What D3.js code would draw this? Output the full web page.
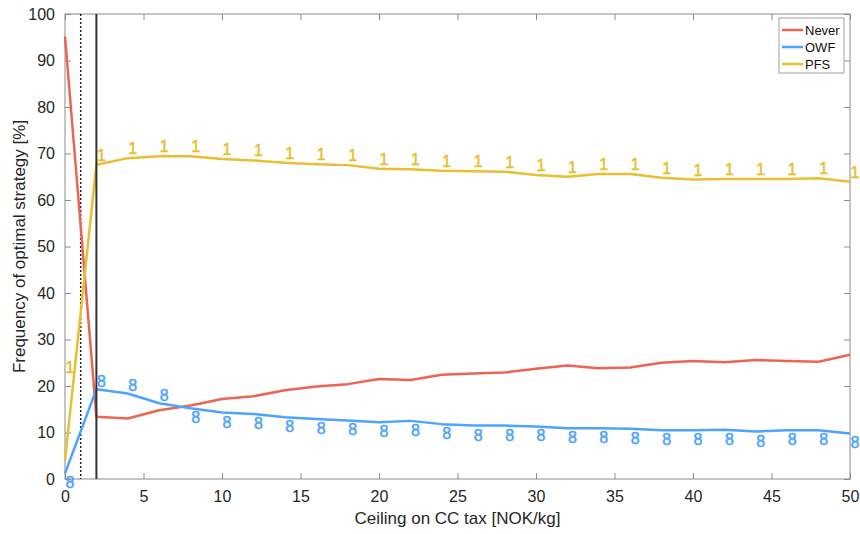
<!DOCTYPE html>
<html>
<head>
<meta charset="utf-8">
<script src="https://cdn.jsdelivr.net/npm/d3@7"></script>
<style>
  body { margin: 0; background: #fff; }
  svg text { font-family: Arial, "Liberation Sans", sans-serif; }
</style>
</head>
<body>
<div id="chart"></div>
<script>
// ceiling on CC tax [NOK/kg]
const ceilings = [0, 2, 4, 6, 8, 10, 12, 14, 16, 18, 20, 22, 24, 26, 28, 30, 32, 34, 36, 38, 40, 42, 44, 46, 48, 50];

// frequency of optimal strategy [%]
const never = [95.2, 13.4, 13.0, 14.8, 15.8, 17.2, 17.8, 19.1, 19.9, 20.4, 21.5, 21.3, 22.4, 22.7, 22.9, 23.7, 24.4, 23.8, 24.0, 25.0, 25.4, 25.1, 25.6, 25.4, 25.2, 26.7];
const owf   = [1.2, 19.3, 18.4, 16.3, 15.2, 14.3, 14.0, 13.3, 12.9, 12.6, 12.2, 12.5, 11.8, 11.5, 11.5, 11.3, 10.9, 10.9, 10.8, 10.5, 10.5, 10.6, 10.2, 10.5, 10.5, 9.8];
const pfs   = [4.0, 67.6, 69.0, 69.4, 69.4, 68.8, 68.5, 68.0, 67.7, 67.5, 66.7, 66.6, 66.3, 66.2, 66.1, 65.4, 65.0, 65.6, 65.6, 64.8, 64.4, 64.5, 64.5, 64.5, 64.7, 63.9];

// strategy number written next to each point
const pfsTag = "1";
const owfTag = "8";
const pfsFirstTagAt = 22;   // the label at x=0 sits up on the line, not at the point

const xTicks = [0, 5, 10, 15, 20, 25, 30, 35, 40, 45, 50];
const yTicks = [0, 10, 20, 30, 40, 50, 60, 70, 80, 90, 100];
const dottedAt = 1;
const solidAt = 2;

const seriesNames = ["Never", "OWF", "PFS"];
const colors = ["#ef6352", "#4da3ff", "#e8bf2e"];

var margin = {top: 14, right: 10, bottom: 55, left: 65},
    width = 850 - margin.left,
    height = 479 - margin.top;

var svg = d3.select("#chart").append("svg")
    .attr("width", 860)
    .attr("height", 534)
  .append("g")
    .attr("transform", "translate(" + margin.left + "," + margin.top + ")");

var x = d3.scaleLinear().domain([0, 50]).range([0, width]);
var y = d3.scaleLinear().domain([0, 100]).range([height, 0]);

// box + ticks (ticks point inward like matlab)
const axisColor = "#8c8c8c";
svg.append("rect")
    .attr("width", width).attr("height", height)
    .attr("fill", "none").attr("stroke", axisColor).attr("stroke-width", 1);

function styleAxis(g) {
  g.select(".domain").remove();
  g.selectAll(".tick line").attr("stroke", axisColor);
  g.selectAll(".tick text").attr("fill", "#262626").attr("font-size", 16);
}

svg.append("g")
    .attr("transform", "translate(0," + height + ")")
    .call(d3.axisBottom(x).tickValues(xTicks).tickSizeInner(-6).tickPadding(12))
    .call(styleAxis);
svg.append("g")
    .call(d3.axisTop(x).tickValues(xTicks).tickSizeInner(-6).tickFormat(""))
    .call(styleAxis);
svg.append("g")
    .call(d3.axisLeft(y).tickValues(yTicks).tickSizeInner(-6).tickPadding(10))
    .call(styleAxis);
svg.append("g")
    .attr("transform", "translate(" + width + ",0)")
    .call(d3.axisRight(y).tickValues(yTicks).tickSizeInner(-6).tickFormat(""))
    .call(styleAxis);

// reference lines
svg.append("line")
    .attr("x1", x(dottedAt)).attr("x2", x(dottedAt))
    .attr("y1", 0).attr("y2", height)
    .attr("stroke", "#222").attr("stroke-width", 1.5)
    .attr("stroke-dasharray", "2,2");

// series lines
const allSeries = [never, owf, pfs];
var line = d3.line()
    .x(function(d, i) { return x(ceilings[i]); })
    .y(function(d) { return y(d); });

allSeries.forEach(function(s, k) {
  svg.append("path")
      .datum(s)
      .attr("fill", "none")
      .attr("stroke", colors[k])
      .attr("stroke-width", 2.5)
      .attr("stroke-linejoin", "round")
      .attr("d", line);
});

svg.append("line")
    .attr("x1", x(solidAt)).attr("x2", x(solidAt))
    .attr("y1", 0).attr("y2", height)
    .attr("stroke", "#333").attr("stroke-width", 2);

// strategy tags
svg.selectAll(".pfs-tag")
    .data(pfs)
  .enter().append("text")
    .attr("class", "pfs-tag")
    .text(pfsTag)
    .attr("x", function(d, i) { return x(ceilings[i]) + 5; })
    .attr("y", function(d, i) { return y(i === 0 ? pfsFirstTagAt : d) - 4; })
    .attr("text-anchor", "middle")
    .attr("fill", colors[2])
    .attr("stroke", colors[2]).attr("stroke-width", 0.5)
    .attr("font-size", 16);

// owf tag goes above when owf is above "never", below otherwise
svg.selectAll(".owf-tag")
    .data(owf)
  .enter().append("text")
    .attr("class", "owf-tag")
    .text(owfTag)
    .attr("x", function(d, i) { return x(ceilings[i]) + 5; })
    .attr("y", function(d, i) { return y(d) + (d > never[i] ? -2 : 15); })
    .attr("text-anchor", "middle")
    .attr("fill", colors[1])
    .attr("stroke", colors[1]).attr("stroke-width", 0.5)
    .attr("font-size", 16);

// legend
var legend = svg.append("g").attr("transform", "translate(" + (779 - margin.left) + "," + (18 - margin.top) + ")");
legend.append("rect")
    .attr("width", 65).attr("height", 55)
    .attr("fill", "#fff").attr("stroke", "#a0a0a0");
seriesNames.forEach(function(name, k) {
  var row = legend.append("g").attr("transform", "translate(0," + (12 + k * 17) + ")");
  row.append("line")
      .attr("x1", 3).attr("x2", 24)
      .attr("stroke", colors[k]).attr("stroke-width", 2.5);
  row.append("text")
      .attr("x", 26).attr("y", 5)
      .attr("font-size", 13)
      .attr("fill", "#111")
      .text(name);
});

// axis titles
svg.append("text")
    .attr("x", width / 2).attr("y", height + 45)
    .attr("text-anchor", "middle")
    .attr("font-size", 17)
    .attr("fill", "#262626")
    .text("Ceiling on CC tax [NOK/kg]");

svg.append("text")
    .attr("transform", "translate(-40," + (height / 2) + ") rotate(-90)")
    .attr("text-anchor", "middle")
    .attr("font-size", 17)
    .attr("fill", "#262626")
    .text("Frequency of optimal strategy [%]");
</script>
</body>
</html>
